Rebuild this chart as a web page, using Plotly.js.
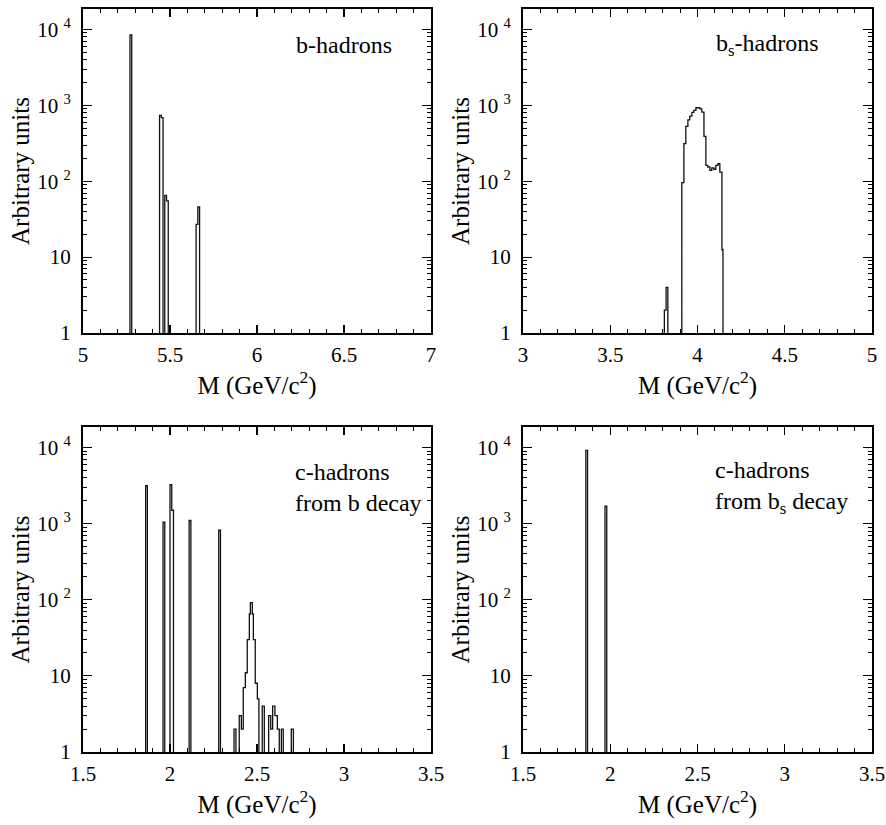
<!DOCTYPE html>
<html><head><meta charset="utf-8">
<script src="https://cdn.plot.ly/plotly-3.0.1.min.js"></script>
<style>html,body{margin:0;padding:0;background:#fff}</style>
</head><body><div id="chart" style="width:886px;height:825px"></div>
<script>
// ---- data (mass in GeV/c^2, arbitrary units) ----
// b-hadrons
const bLo = [5.27, 5.44, 5.45, 5.47, 5.48, 5.65, 5.66];
const bHi = [5.28, 5.45, 5.46, 5.48, 5.49, 5.66, 5.67];
const bN  = [8500, 740, 690, 65, 55, 27, 46];
// b_s-hadrons
const bsLo = [3.81, 3.82, 3.910, 3.922, 3.933, 3.945, 3.956, 3.968, 3.979, 3.991, 4.002, 4.014, 4.025, 4.037, 4.048, 4.059, 4.071, 4.082, 4.094, 4.105, 4.117, 4.128, 4.140];
const bsHi = [3.82, 3.83, 3.922, 3.933, 3.945, 3.956, 3.968, 3.979, 3.991, 4.002, 4.014, 4.025, 4.037, 4.048, 4.059, 4.071, 4.082, 4.094, 4.105, 4.117, 4.128, 4.140, 4.146];
const bsN  = [2, 4, 96, 314, 528, 645, 720, 810, 860, 930, 930, 900, 815, 390, 162, 154, 139, 150, 144, 162, 170, 132, 12.6];
// c-hadrons from b decay
const cLo = [1.86, 1.96, 2.00, 2.01, 2.11, 2.28, 2.368, 2.398, 2.410, 2.421, 2.433, 2.444, 2.456, 2.462, 2.473, 2.479, 2.490, 2.502, 2.530, 2.567, 2.579, 2.590, 2.603, 2.617, 2.640, 2.697];
const cHi = [1.87, 1.97, 2.01, 2.02, 2.12, 2.29, 2.379, 2.410, 2.421, 2.433, 2.444, 2.456, 2.462, 2.473, 2.479, 2.490, 2.502, 2.511, 2.542, 2.579, 2.590, 2.603, 2.617, 2.628, 2.651, 2.709];
const cN  = [3150, 1050, 3250, 1500, 1100, 820, 2, 3, 2, 7, 11, 30, 65, 92, 65, 30, 8, 5, 4, 3, 2, 4, 3, 2, 2, 2];
// c-hadrons from b_s decay
const csLo = [1.86, 1.97];
const csHi = [1.87, 1.98];
const csN  = [9200, 1700];

// tick labels
const xTicksB  = [5, 5.5, 6, 6.5, 7];
const xTicksBs = [3, 3.5, 4, 4.5, 5];
const xTicksC  = [1.5, 2, 2.5, 3, 3.5];
const yTickVals = [1, 10, 100, 1000, 10000];
const yTickText = ['1', '10', '10 <sup>2</sup>', '10 <sup>3</sup>', '10 <sup>4</sup>'];
const panelLabels = ['b-hadrons', 'b<sub>s</sub>-hadrons', 'c-hadrons<br>from b decay', 'c-hadrons<br>from b<sub>s</sub> decay'];

// ---- build histogram outlines ----
const FLOOR = 0.01; // empty bins sit below the axis (log scale)
function outline(lo, hi, n) {
  const x = [], y = [];
  for (let i = 0; i < lo.length; i++) {
    const joined = i > 0 && Math.abs(lo[i] - hi[i - 1]) < 1e-6;
    if (!joined) {
      if (i > 0) { x.push(hi[i - 1]); y.push(FLOOR); }
      x.push(lo[i]); y.push(FLOOR);
    }
    x.push(lo[i]); y.push(n[i]);
    x.push(hi[i]); y.push(n[i]);
  }
  x.push(hi[hi.length - 1]); y.push(FLOOR);
  return {x, y};
}

const serif = 'Liberation Serif, DejaVu Serif, serif';
const tickFont = {family: serif, size: 21, color: '#000'};
const titleFont = {family: serif, size: 25, color: '#000'};

const sets = [[bLo, bHi, bN], [bsLo, bsHi, bsN], [cLo, cHi, cN], [csLo, csHi, csN]];
const traces = sets.map((s, i) => {
  const o = outline(s[0], s[1], s[2]);
  const k = i === 0 ? '' : String(i + 1);
  return {type: 'scatter', mode: 'lines', x: o.x, y: o.y, xaxis: 'x' + k, yaxis: 'y' + k,
          line: {color: '#111', width: 1.3, shape: 'linear'}, hoverinfo: 'skip', showlegend: false};
});

const minorLog = [];
for (let d = 1; d <= 10000; d *= 10) for (let m = 2; m <= 9; m++) minorLog.push(d * m);

const xDom = [[83 / 886, 431 / 886], [523 / 886, 872 / 886]];
const yDom = [[1 - 333 / 825, 1 - 9 / 825], [1 - 752 / 825, 1 - 427 / 825]];

function xAxis(dom, anchor, ticks) {
  return {domain: dom, anchor: anchor, range: [ticks[0], ticks[ticks.length - 1]], type: 'linear',
    tickmode: 'array', tickvals: ticks, ticktext: ticks.map(String),
    ticks: 'inside', ticklen: 8, tickwidth: 1.2, tickcolor: '#000',
    minor: {ticks: 'inside', ticklen: 4, tickwidth: 1, tickcolor: '#000', dtick: 0.1, tick0: 0, showgrid: false},
    showline: true, linecolor: '#000', linewidth: 2, mirror: 'allticks',
    showgrid: false, zeroline: false, automargin: false, tickfont: tickFont, ticklabelstandoff: 2,
    title: {text: 'M (GeV/c<sup>2</sup>)', font: titleFont, standoff: 2}};
}
function yAxis(dom, anchor) {
  return {domain: dom, anchor: anchor, type: 'log', range: [0, 4.27],
    tickmode: 'array', tickvals: yTickVals, ticktext: yTickText,
    ticks: 'inside', ticklen: 9, tickwidth: 1.2, tickcolor: '#000',
    minor: {ticks: 'inside', ticklen: 4, tickwidth: 1, tickcolor: '#000', tickmode: 'array', tickvals: minorLog, showgrid: false},
    showline: true, linecolor: '#000', linewidth: 2, mirror: 'allticks',
    showgrid: false, zeroline: false, automargin: false, tickfont: tickFont, ticklabelstandoff: 6,
    title: {text: 'Arbitrary units', font: titleFont, standoff: 0}};
}

const labelPos = [[294, 45], [714, 45], [293, 487], [713, 487]];
const annotations = panelLabels.map((t, i) => ({
  text: t, xref: 'paper', yref: 'paper', x: labelPos[i][0] / 886, y: 1 - labelPos[i][1] / 825,
  xanchor: 'left', yanchor: 'middle', align: 'left', showarrow: false,
  font: {family: serif, size: 24, color: '#000'}}));

const layout = {
  width: 886, height: 825, margin: {l: 0, r: 0, t: 0, b: 0},
  paper_bgcolor: '#fff', plot_bgcolor: '#fff', showlegend: false,
  font: {family: serif, color: '#000'},
  xaxis: xAxis(xDom[0], 'y', xTicksB), yaxis: yAxis(yDom[0], 'x'),
  xaxis2: xAxis(xDom[1], 'y2', xTicksBs), yaxis2: yAxis(yDom[0], 'x2'),
  xaxis3: xAxis(xDom[0], 'y3', xTicksC), yaxis3: yAxis(yDom[1], 'x3'),
  xaxis4: xAxis(xDom[1], 'y4', xTicksC), yaxis4: yAxis(yDom[1], 'x4'),
  annotations: annotations
};
Plotly.newPlot('chart', traces, layout, {staticPlot: true, displayModeBar: false});
</script></body></html>
